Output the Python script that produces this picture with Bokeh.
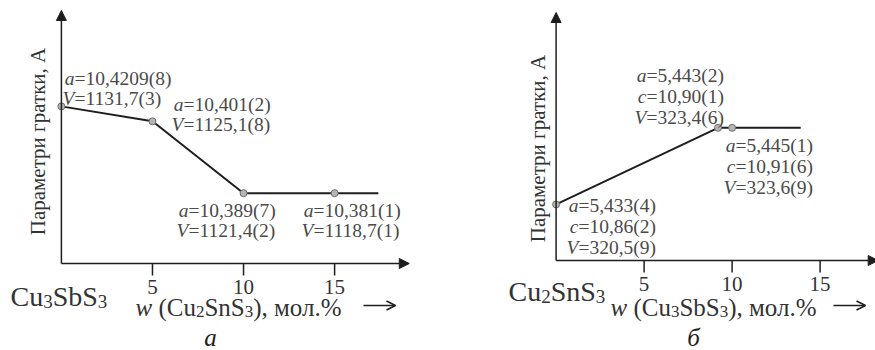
import math
from bokeh.plotting import figure
from bokeh.models import Range1d, Label, Arrow, NormalHead, OpenHead
from bokeh.core.properties import value
from bokeh.layouts import row
from bokeh.embed import file_html
from bokeh.resources import INLINE

# ---------------- data ----------------
x_ticks = [5, 10, 15]

# panel a: Cu3SbS3 + w(Cu2SnS3)
left_x = [0, 5, 10, 15]
left_y = [6.21, 5.62, 2.78, 2.78]          # schematic level (axis has no scale)
left_line_x = [0, 5, 10, 15, 17.4]
left_line_y = [6.21, 5.62, 2.78, 2.78, 2.78]
left_a = ["10,4209(8)", "10,401(2)", "10,389(7)", "10,381(1)"]
left_V = ["1131,7(3)", "1125,1(8)", "1121,4(2)", "1118,7(1)"]

# panel б: Cu2SnS3 + w(Cu3SbS3)
right_x = [0, 9.2, 10]
right_y = [2.26, 5.35, 5.35]
right_line_x = [0, 9.2, 10, 13.9]
right_line_y = [2.26, 5.35, 5.35, 5.35]
right_a = ["5,433(4)", "5,443(2)", "5,445(1)"]
right_c = ["10,86(2)", "10,90(1)", "10,91(6)"]
right_V = ["320,5(9)", "323,4(6)", "323,6(9)"]

y_label = "Параметри гратки, А"

# ---------------- style ----------------
FONT = "Liberation Serif"
INK = "#1e1e1e"
TXT = "#333333"
NOTE = "#4a4a4a"

W = {"C": .667, "u": .5, "S": .556, "b": .5, "n": .5, " ": .25, "(": .333, ")": .333,
     ",": .25, ".": .25, "%": .833, "м": .63, "о": .5, "л": .53, "w": .667}
DESC = 0.216   # descent of the serif font, in em


def tw(text, size):
    return sum(W.get(ch, .5) for ch in text) * size


def make_panel(width, x0px, kx, B, ky):
    """Frame fills the whole canvas; x=0 sits at pixel x0px, y=0 at pixel row B."""
    p = figure(width=width, height=350,
               x_range=Range1d(-x0px / kx, (width - x0px) / kx),
               y_range=Range1d(-(350 - B) / ky, B / ky),
               output_backend="svg", toolbar_location=None,
               x_axis_location=None, y_axis_location=None,
               min_border_left=0, min_border_right=0, min_border_top=0, min_border_bottom=0)
    p.outline_line_color = None
    p.grid.visible = False
    p.background_fill_color = "white"
    p.border_fill_color = "white"

    def conv(px, py):
        return (px - x0px) / kx, (B - py) / ky
    return p, conv


def put(p, conv, px, py, text, size, style="normal", align="left", baseline="middle",
        color=TXT, angle=0.0):
    x, y = conv(px, py)
    p.add_layout(Label(x=x, y=y, text=text, text_font=FONT, text_font_size=f"{size}px",
                       text_font_style=style, text_align=align, text_baseline=baseline,
                       text_color=color, angle=angle))


def chain(p, conv, px, base_py, pieces, color=TXT):
    """Pieces of mixed size share one baseline; blank pieces only advance."""
    for text, size, style, lift in pieces:
        if text.strip():
            put(p, conv, px, base_py + DESC * size - lift, text, size, style,
                baseline="bottom", color=color)
        px += tw(text, size)


def note(p, conv, ax, ay, letters, values, gap):
    for k, (L, v) in enumerate(zip(letters, values)):
        y = ay + k * gap
        put(p, conv, ax, y, L, 19.5, "italic", align="right", color=NOTE)
        put(p, conv, ax, y, "=" + v, 19.5, "normal", align="left", color=NOTE)


def axes(p, conv, x_tip, B):
    head = dict(size=10, fill_color=INK, line_color=INK)
    p.add_layout(Arrow(x_start=0, y_start=0, x_end=0, y_end=10, line_color=INK, line_width=1.5,
                       end=NormalHead(**head)))
    p.add_layout(Arrow(x_start=0, y_start=0, x_end=x_tip, y_end=0, line_color=INK, line_width=1.5,
                       end=NormalHead(**head)))
    _, tick_end = conv(0, B + 12)
    _, lab_y = conv(0, B + 23)
    p.segment(x0=x_ticks, y0=[0] * len(x_ticks), x1=x_ticks, y1=[tick_end] * len(x_ticks),
              line_color=INK, line_width=1.5)
    p.text(x=x_ticks, y=[lab_y] * len(x_ticks), text=[str(t) for t in x_ticks],
           text_font=value(FONT), text_font_size="21px", text_color=TXT,
           text_align="center", text_baseline="middle")


def long_arrow(p, conv, px0, px1, py):
    x0, y0 = conv(px0, py)
    x1, y1 = conv(px1, py)
    p.add_layout(Arrow(x_start=x0, y_start=y0, x_end=x1, y_end=y1, line_color=INK, line_width=1.5,
                       end=OpenHead(size=9, line_color=INK, line_width=1.5)))


def formula(p, conv, px, base_py, parts):
    pieces = []
    for t in parts:
        pieces.append((t, 19, "normal", 2) if t.isdigit() else (t, 28, "normal", 0))
    chain(p, conv, px, base_py, pieces)


def wlabel(p, conv, px, base_py, parts):
    pieces = [("w", 25, "italic", 0), (" ", 25, "normal", 0), ("(", 25, "normal", 0)]
    for t in parts:
        pieces.append((t, 17, "normal", 2) if t.isdigit() else (t, 25, "normal", 0))
    pieces.append(("), мол.%", 25, "normal", 0))
    chain(p, conv, px, base_py, pieces)


# ---------------- panel a ----------------
B1 = 263
p1, c1 = make_panel(440, 60.9, 18.214, B1, 25.3)
axes(p1, c1, 19.1, B1)
p1.line(left_line_x, left_line_y, line_width=2, color=INK)
p1.scatter(left_x, left_y, size=7, fill_color="#b5b5b5", line_color="#6e6e6e", line_width=1)

left_pos = [(74, 78), (183, 104), (188, 210), (313, 210)]
for (ax_, ay_), a_, V_ in zip(left_pos, left_a, left_V):
    note(p1, c1, ax_, ay_, ["a", "V"], [a_, V_], 20)

put(p1, c1, 37, 141, y_label, 21, angle=math.pi / 2, align="center")
formula(p1, c1, 10, 305, ["Cu", "3", "SbS", "3"])
wlabel(p1, c1, 135, 315, ["Cu", "2", "SnS", "3"])
long_arrow(p1, c1, 363, 395, 305)
put(p1, c1, 210, 350, "а", 25, "italic", align="center", baseline="bottom", color=INK)

# ---------------- panel б ----------------
B2 = 260
p2, c2 = make_panel(435, 115.6, 17.6, B2, 24.8)
axes(p2, c2, 18.3, B2)
p2.line(right_line_x, right_line_y, line_width=2, color=INK)
p2.scatter(right_x, right_y, size=7, fill_color="#b5b5b5", line_color="#6e6e6e", line_width=1)

right_pos = [(578 - 440, 205), (646 - 440, 75), (735 - 440, 145)]
for (ax_, ay_), a_, c_, V_ in zip(right_pos, right_a, right_c, right_V):
    note(p2, c2, ax_, ay_, ["a", "c", "V"], [a_, c_, V_], 21)

put(p2, c2, 537 - 440, 148, y_label, 21, angle=math.pi / 2, align="center")
formula(p2, c2, 508 - 440, 300, ["Cu", "2", "SnS", "3"])
wlabel(p2, c2, 610 - 440, 315, ["Cu", "3", "SbS", "3"])
long_arrow(p2, c2, 833 - 440, 865 - 440, 305)
put(p2, c2, 693 - 440, 350, "б", 25, "italic", align="center", baseline="bottom", color=INK)

layout = row(p1, p2)
open("out.html", "w").write(file_html(layout, INLINE))
